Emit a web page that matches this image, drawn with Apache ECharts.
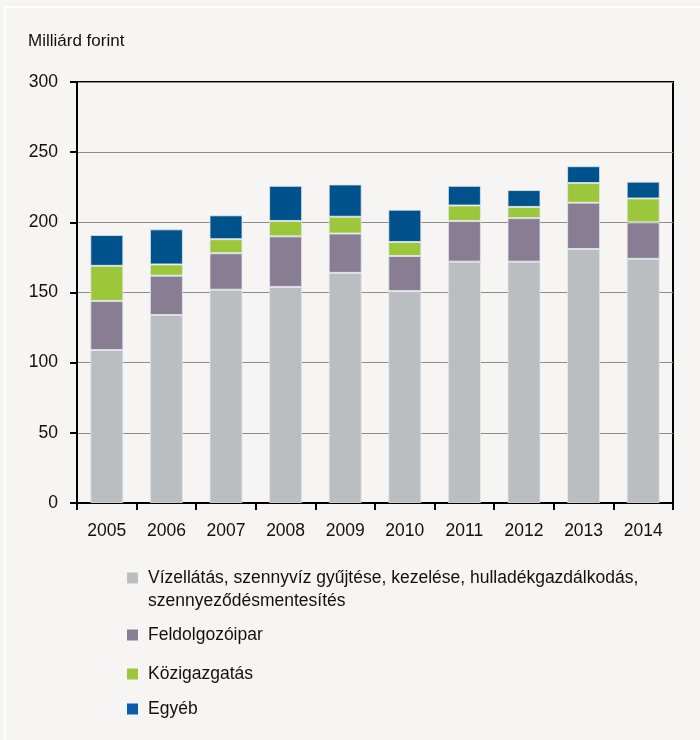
<!DOCTYPE html>
<html>
<head>
<meta charset="utf-8">
<script src="https://cdn.jsdelivr.net/npm/echarts@6/dist/echarts.min.js"></script>
<style>
  html, body { margin: 0; padding: 0; background: #f6f5f4; }
  #main { width: 700px; height: 740px; }
</style>
</head>
<body>
<div id="main"></div>
<script>
var years = ['2005', '2006', '2007', '2008', '2009', '2010', '2011', '2012', '2013', '2014'];
var seriesNames = [
    'Vízellátás, szennyvíz gyűjtése, kezelése, hulladékgazdálkodás, szennyeződésmentesítés',
    'Feldolgozóipar',
    'Közigazgatás',
    'Egyéb'
];
var vizellatas = [109, 134, 152, 154, 164, 151, 172, 172, 181, 174];
var feldolgozoipar = [35, 28, 26, 36, 28, 25, 29, 31, 33, 26];
var kozigazgatas = [25, 8, 10, 11, 12, 10, 11, 8, 14, 17];
var egyeb = [22, 25, 17, 25, 23, 23, 14, 12, 12, 12];
var yTicks = [0, 50, 100, 150, 200, 250, 300];

var barColors = ['#bbbec1', '#897d94', '#9cc73a', '#00528c'];
var legendColors = ['#bcbec0', '#897d94', '#9cc73a', '#0a5caf'];
var font = '"Liberation Sans", Arial, sans-serif';
var fs = 17.5;

var myChart = echarts.init(document.getElementById('main'));

// one legend per item, the reference spaces them unevenly
var legendCenters = [578, 635, 674, 709];
var legends = seriesNames.map(function (name, i) {
    var first = i === 0;
    return {
        orient: 'vertical',
        left: 127,
        top: first ? legendCenters[i] - 34.5 : legendCenters[i] - 11.5,
        padding: 0,
        itemWidth: 11,
        itemHeight: 11,
        selectedMode: false,
        icon: 'rect',
        data: [{name: name, itemStyle: {color: legendColors[i], borderWidth: 0}}],
        formatter: function (n) {
            // empty first line keeps the marker next to the first text row
            return n === seriesNames[0]
                ? ' \nVízellátás, szennyvíz gyűjtése, kezelése, hulladékgazdálkodás,\nszennyeződésmentesítés'
                : n;
        },
        textStyle: {
            fontFamily: font,
            fontSize: fs,
            color: '#111',
            lineHeight: 23,
            padding: [0, 0, 0, 5]
        }
    };
});

var dataSets = [vizellatas, feldolgozoipar, kozigazgatas, egyeb];

option = {
    backgroundColor: '#f6f5f4',
    animation: false,
    title: {
        text: 'Milliárd forint',
        left: 28,
        top: 33,
        padding: 0,
        textStyle: {fontFamily: font, fontSize: 17, fontWeight: 'normal', color: '#111'}
    },
    graphic: [
        {
            type: 'rect',
            shape: {x: 5, y: 7, width: 720, height: 760},
            style: {fill: null, stroke: '#ffffff', lineWidth: 2},
            silent: true
        }
    ],
    legend: legends,
    grid: {
        left: 77,
        right: 27,
        top: 82,
        bottom: 237,
        show: true,
        borderColor: '#000',
        borderWidth: 2,
        backgroundColor: 'transparent'
    },
    xAxis: [
        {
            type: 'category',
            data: years,
            boundaryGap: true,
            axisLine: {lineStyle: {color: '#000', width: 2}},
            axisTick: {show: true, length: 7, lineStyle: {color: '#000', width: 2}},
            axisLabel: {fontFamily: font, fontSize: fs, color: '#111', margin: 19, interval: 0}
        }
    ],
    yAxis: [
        {
            type: 'value',
            min: yTicks[0],
            max: yTicks[yTicks.length - 1],
            interval: 50,
            axisLine: {show: true, lineStyle: {color: '#000', width: 2}},
            axisTick: {show: true, length: 7, lineStyle: {color: '#000', width: 2}},
            axisLabel: {fontFamily: font, fontSize: fs, color: '#111', margin: 19},
            splitLine: {lineStyle: {color: '#8c8c8c', width: 1}}
        }
    ],
    series: dataSets.map(function (d, i) {
        return {
            name: seriesNames[i],
            type: 'bar',
            stack: 'total',
            barWidth: 33,
            data: d,
            itemStyle: {color: barColors[i], borderColor: 'rgba(225,230,235,0.8)', borderWidth: 1}
        };
    })
};

myChart.setOption(option);
</script>
</body>
</html>
